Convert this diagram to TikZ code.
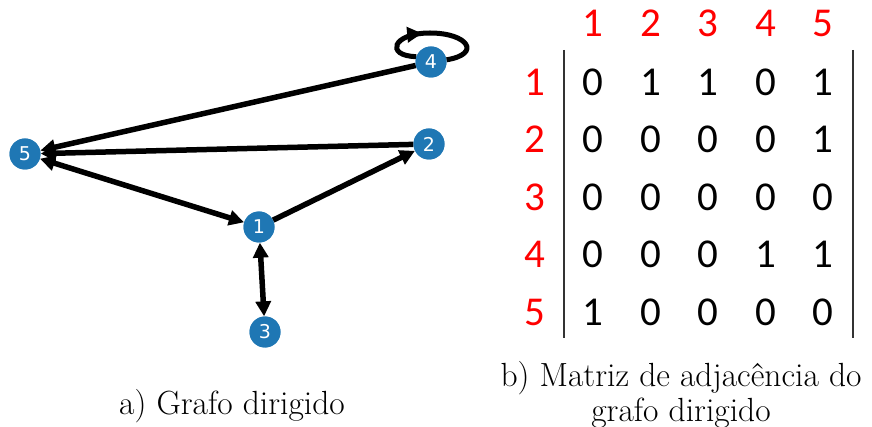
\documentclass[tikz,border=0pt]{standalone}
\usepackage{fontspec}
\newfontfamily\calibri{Carlito}
\newfontfamily\dejavu{DejaVu Sans}
\usetikzlibrary{arrows.meta,decorations.markings}
\definecolor{nodeblue}{HTML}{1F77B4}
\definecolor{hdrred}{HTML}{FF0000}

\begin{document}
\begin{tikzpicture}[x=1pt,y=-1pt,
  vert/.style={circle,fill=nodeblue,minimum size=31pt,inner sep=0pt,
    text=white,font=\dejavu\fontsize{19}{19}\selectfont},
  tip/.tip={Triangle[length=15pt,width=15pt]},
  edge/.style={line width=5.5pt,-tip},
  biedge/.style={line width=5.5pt,tip-tip},
  loopedge/.style={line width=5pt,
    postaction={decorate,decoration={markings,
      mark=at position 0.42 with {\arrow{tip}}}}},
  cell/.style={inner sep=0pt,font=\calibri\fontsize{41}{41}\selectfont},
  hdr/.style={cell,text=hdrred},
  bar/.style={line width=1.3pt,draw=black!80},
  caption/.style={inner sep=0pt,align=center,
    font=\fontsize{33.5}{35}\selectfont}]
\useasboundingbox (0,0) rectangle (872,427);

% vertices of the directed graph
\node[vert] (n1) at (259,227) {1};
\node[vert] (n2) at (429,144) {2};
\node[vert] (n3) at (265,332) {3};
\node[vert] (n4) at (431,62)  {4};
\node[vert] (n5) at (25,154)  {5};

% edges
\draw[edge] (n1) -- (n2);
\draw[edge] (n2) -- (n5);
\draw[edge] (n4) -- (n5);
\draw[biedge] (n1) -- (n5);
\draw[biedge] (n1) -- (n3);
\draw[loopedge] (n4.160) .. controls (385,56) and (392,33) .. (430,33)
  .. controls (468,33) and (482,54) .. (n4.8);

% redraw vertices on top of the edges
\node[vert] at (n1) {1};
\node[vert] at (n2) {2};
\node[vert] at (n3) {3};
\node[vert] at (n4) {4};
\node[vert] at (n5) {5};

% adjacency matrix: headers
\foreach \c in {1,...,5} {
  \node[hdr] (col\c) at ({593+57.5*(\c-1)},23) {\c};
  \node[hdr] (row\c) at (535,{82+57.5*(\c-1)}) {\c};
}
% adjacency matrix: entries
\foreach \r/\row in {1/{0,1,1,0,1},2/{0,0,0,0,1},3/{0,0,0,0,0},
                     4/{0,0,0,1,1},5/{1,0,0,0,0}} {
  \foreach \v [count=\c] in \row {
    \node[cell] (m-\r-\c) at ({593+57.5*(\c-1)},{82+57.5*(\r-1)}) {\v};
  }
}
\coordinate (lt) at (564,50);
\coordinate (lb) at (564,338);
\coordinate (rt) at (853,50);
\coordinate (rb) at (853,338);
\draw[bar] (lt) -- (lb);
\draw[bar] (rt) -- (rb);

% captions
\node[caption] (capa) at (232,406) {a) Grafo dirigido};
\node[caption] (capb) at (681,395) {b) Matriz de adjacência do\\grafo dirigido};
\end{tikzpicture}
\end{document}
